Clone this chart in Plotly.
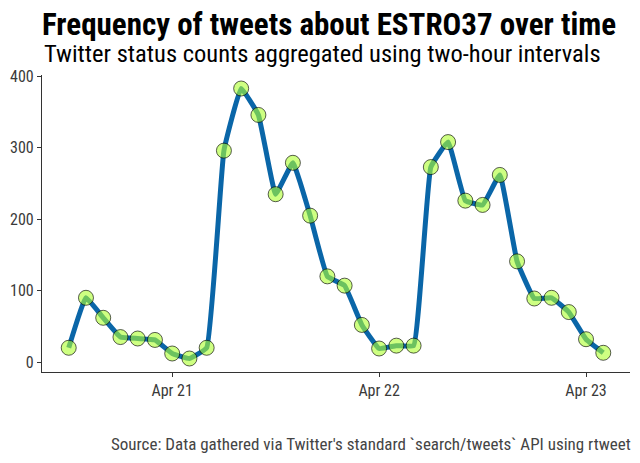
import plotly.graph_objects as go
import pandas as pd

start = "2018-04-20 12:00"
counts = [20, 90, 62, 35, 33, 31, 12, 5, 20, 296, 383, 346, 235, 279, 205, 120,
          107, 52, 19, 23, 23, 273, 308, 226, 220, 262, 141, 89, 90, 70, 32, 13]
times = pd.date_range(start=start, periods=len(counts), freq="2h")

tick_vals = ["2018-04-21", "2018-04-22", "2018-04-23"]
tick_text = ["Apr 21", "Apr 22", "Apr 23"]
y_ticks = [0, 100, 200, 300, 400]

title = "Frequency of tweets about ESTRO37 over time"
subtitle = "Twitter status counts aggregated using two-hour intervals"
caption = "Source: Data gathered via Twitter's standard `search/tweets` API using rtweet"

FONT = "Roboto Condensed, DejaVu Sans Condensed, Liberation Sans Narrow, Roboto, sans-serif"

fig = go.Figure()
fig.add_trace(go.Scatter(
    x=times, y=counts, mode="lines",
    line=dict(color="#0a66a8", width=5, shape="spline", smoothing=0.3),
    hoverinfo="skip", showlegend=False,
))
fig.add_trace(go.Scatter(
    x=times, y=counts, mode="markers",
    marker=dict(size=15, color="rgba(173,255,47,0.6)",
                line=dict(color="rgba(0,0,0,0.8)", width=0.8)),
    showlegend=False,
))

t0, t1 = times[0], times[-1]
span = t1 - t0
ymin, ymax = min(counts), max(counts)
yspan = ymax - ymin

fig.update_layout(
    width=640, height=463,
    margin=dict(l=34, r=18, t=67, b=99),
    paper_bgcolor="white", plot_bgcolor="white",
    font=dict(family=FONT, color="#3a3a3a", size=16),
    xaxis=dict(
        range=[t0 - span * 0.05, t1 + span * 0.05],
        tickvals=tick_vals, ticktext=tick_text, automargin=False,
        showgrid=False, zeroline=False,
        showline=True, linecolor="#333333", linewidth=1.2,
        ticks="outside", ticklen=4, tickcolor="#333333",
        tickfont=dict(size=16, color="#3a3a3a"),
    ),
    yaxis=dict(
        range=[ymin - yspan * 0.05, ymax + yspan * 0.05],
        tickvals=y_ticks, automargin=False,
        showgrid=False, zeroline=False,
        showline=True, linecolor="#333333", linewidth=1.2,
        ticks="outside", ticklen=4, tickcolor="#333333",
        tickfont=dict(size=16, color="#3a3a3a"),
    ),
    annotations=[
        dict(text="<b>" + title + "</b>", xref="paper", yref="paper",
             x=-0.004, y=1.17, xanchor="left", yanchor="middle", showarrow=False,
             font=dict(size=31, color="#000000", family=FONT)),
        dict(text=subtitle, xref="paper", yref="paper",
             x=0, y=1.074, xanchor="left", yanchor="middle", showarrow=False,
             font=dict(size=24.5, color="#000000", family=FONT)),
        dict(text=caption, xref="paper", yref="paper",
             x=1.005, y=-0.2424, xanchor="right", yanchor="middle", showarrow=False,
             font=dict(size=17, color="#444444", family=FONT)),
    ],
)

fig.write_html("out.html")
